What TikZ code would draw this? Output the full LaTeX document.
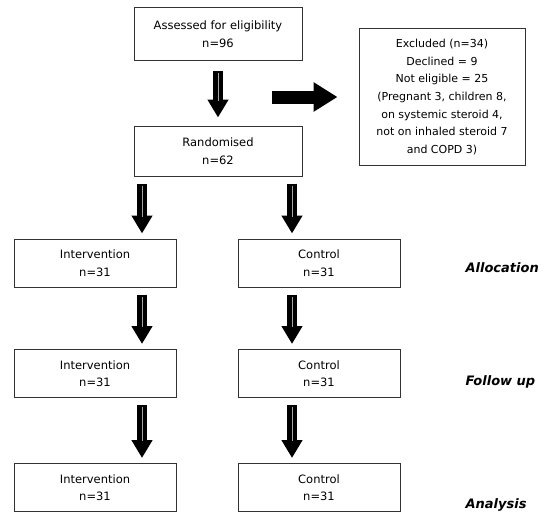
\documentclass[tikz,border=0pt]{standalone}
\usepackage{fontspec}
\setmainfont{DejaVu Sans}
\usetikzlibrary{arrows.meta}
\tikzset{
  box/.style={draw=black!80, line width=1pt, minimum width=162pt, minimum height=48pt,
    align=center, inner sep=2pt, font=\fontsize{11.5}{17.5}\selectfont},
  bigdown/.style={line width=10pt, -{Triangle[width=20pt,length=18pt]}, shorten <=7pt, shorten >=5pt},
  bigright/.style={line width=13pt, -{Triangle[width=28pt,length=24pt]}},
  midline/.style={black!35, line width=0.3pt},
  phase/.style={anchor=west, font=\fontsize{13}{16}\selectfont\bfseries\itshape}
}
\begin{document}
\begin{tikzpicture}[x=1pt,y=-1pt]
\useasboundingbox (0,0) rectangle (545,527);
\node[box, minimum width=168pt, minimum height=52pt] (assess) at (218,34) {Assessed for eligibility\\n=96};
\node[box, minimum width=168pt, minimum height=50pt] (rand) at (218,151) {Randomised\\n=62};
\node[box, minimum width=166pt, minimum height=136pt, font=\fontsize{11}{17.7}\selectfont] (excl) at (442,97)
  {Excluded (n=34)\\Declined = 9\\Not eligible = 25\\(Pregnant 3, children 8,\\on systemic steroid 4,\\not on inhaled steroid 7\\and COPD 3)};
\node[box] (i1) at (95,263) {Intervention\\n=31};
\node[box] (c1) at (319,263) {Control\\n=31};
\node[box] (i2) at (95,373.5) {Intervention\\n=31};
\node[box] (c2) at (319,373.5) {Control\\n=31};
\node[box] (i3) at (95,487.5) {Intervention\\n=31};
\node[box] (c3) at (319,487.5) {Control\\n=31};
\node[phase] (lab1) at (462,268) {Allocation};
\node[phase] (lab2) at (462,382) {Follow up};
\node[phase] (lab3) at (462,505) {Analysis};
% arrow x positions
\coordinate (xl) at (142,0);
\coordinate (xr) at (292,0);
\coordinate (rstart) at (272,97);
\coordinate (rend) at (excl.west |- rstart);
% arrows
\draw[bigdown, shorten <=10pt, shorten >=8pt] (assess.south) -- (rand.north);
\draw[bigright, shorten >=21pt] (rstart) -- (rend);
\draw[bigdown] (rand.south -| xl) -- (i1.north -| xl);
\draw[bigdown] (rand.south -| xr) -- (c1.north -| xr);
\draw[bigdown] (i1.south -| xl) -- (i2.north -| xl);
\draw[bigdown] (c1.south -| xr) -- (c2.north -| xr);
\draw[bigdown] (i2.south -| xl) -- (i3.north -| xl);
\draw[bigdown] (c2.south -| xr) -- (c3.north -| xr);
% thin light lines in shafts
\draw[midline, shorten <=12pt, shorten >=25pt] (assess.south) -- (rand.north);
\draw[midline, shorten <=9pt, shorten >=22pt] (rand.south -| xl) -- (i1.north -| xl);
\draw[midline, shorten <=9pt, shorten >=22pt] (rand.south -| xr) -- (c1.north -| xr);
\draw[midline, shorten <=9pt, shorten >=22pt] (i1.south -| xl) -- (i2.north -| xl);
\draw[midline, shorten <=9pt, shorten >=22pt] (c1.south -| xr) -- (c2.north -| xr);
\draw[midline, shorten <=9pt, shorten >=22pt] (i2.south -| xl) -- (i3.north -| xl);
\draw[midline, shorten <=9pt, shorten >=22pt] (c2.south -| xr) -- (c3.north -| xr);
\end{tikzpicture}
\end{document}
